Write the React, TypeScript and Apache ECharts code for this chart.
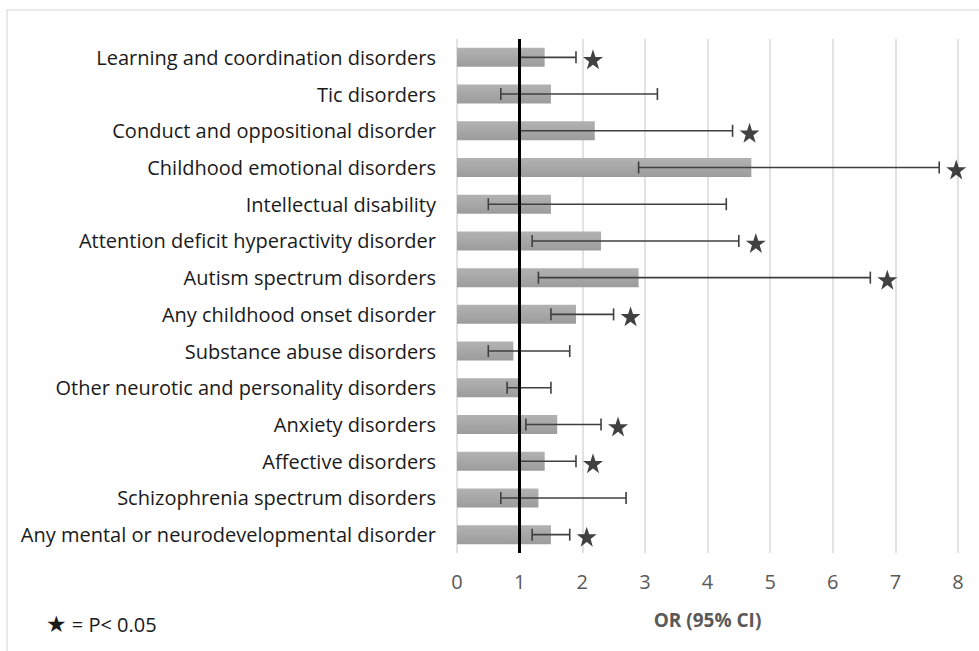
import React, { useEffect, useRef } from "react";
import * as echarts from "echarts";

const categories = [
  "Learning and coordination disorders",
  "Tic disorders",
  "Conduct and oppositional disorder",
  "Childhood emotional disorders",
  "Intellectual disability",
  "Attention deficit hyperactivity disorder",
  "Autism spectrum disorders",
  "Any childhood onset disorder",
  "Substance abuse disorders",
  "Other neurotic and personality disorders",
  "Anxiety disorders",
  "Affective disorders",
  "Schizophrenia spectrum disorders",
  "Any mental or neurodevelopmental disorder",
];
const orValues = [1.4, 1.5, 2.2, 4.7, 1.5, 2.3, 2.9, 1.9, 0.9, 0.98, 1.6, 1.4, 1.3, 1.5];
const ciLow = [1.0, 0.7, 1.0, 2.9, 0.5, 1.2, 1.3, 1.5, 0.5, 0.8, 1.1, 1.0, 0.7, 1.2];
const ciHigh = [1.9, 3.2, 4.4, 7.7, 4.3, 4.5, 6.6, 2.5, 1.8, 1.5, 2.3, 1.9, 2.7, 1.8];
const significant = [true, false, true, true, false, true, true, true, false, false, true, true, false, true];
const xTicks = [0, 1, 2, 3, 4, 5, 6, 7, 8];

const STAR = "path://M50,0 L61.8,35.1 L98.1,35.1 L68.7,56.7 L79.4,91.2 L50,70 L20.6,91.2 L31.3,56.7 L1.9,35.1 L38.2,35.1 Z";
const FONT = "'Open Sans', sans-serif";

export default function App() {
  const ref = useRef<HTMLDivElement>(null);
  useEffect(() => {
    if (!ref.current) return;
    const chart = echarts.init(ref.current, null, { renderer: "svg" });
    const errData = categories.map((_, i) => [i, ciLow[i], ciHigh[i]]);
    const starData = categories
      .map((_, i) => (significant[i] ? [ciHigh[i], i] : null))
      .filter((d) => d !== null);
    chart.setOption({
      animation: false,
      backgroundColor: "#ffffff",
      textStyle: { fontFamily: FONT },
      grid: { left: 457, right: 21, top: 39, bottom: 98, containLabel: false },
      graphic: [
        {
          type: "rect",
          shape: { x: 7, y: 10, width: 1000, height: 700 },
          style: { fill: "none", stroke: "#e3e3e3", lineWidth: 1.5 },
          silent: true,
        },
        {
          type: "text",
          x: 46,
          y: 624,
          style: {
            text: "{s|★} = P< 0.05",
            fontSize: 20,
            fontFamily: FONT,
            fill: "#1a1a1a",
            verticalAlign: "middle",
            rich: {
              s: { fontSize: 23, fill: "#1a1a1a", fontFamily: "DejaVu Sans" },
            },
          },
        },
      ],
      xAxis: {
        type: "value",
        min: 0,
        max: 8,
        interval: 1,
        axisLine: { show: false },
        axisTick: { show: false },
        splitLine: { show: true, lineStyle: { color: "#d9d9d9", width: 1.5 } },
        axisLabel: {
          color: "#595959",
          fontSize: 20,
          margin: 18,
          fontFamily: FONT,
          formatter: (v: number) => (xTicks.includes(v) ? String(v) : ""),
        },
        name: "OR (95% CI)",
        nameLocation: "middle",
        nameGap: 57,
        nameTextStyle: { color: "#595959", fontSize: 19, fontWeight: "bold", fontFamily: FONT },
      },
      yAxis: {
        type: "category",
        data: categories,
        inverse: true,
        axisLine: { show: false },
        axisTick: { show: false },
        axisLabel: { color: "#1a1a1a", fontSize: 20, margin: 21, fontFamily: FONT },
      },
      series: [
        {
          type: "bar",
          data: orValues,
          barWidth: 19,
          itemStyle: {
            color: new echarts.graphic.LinearGradient(0, 0, 0, 1, [
              { offset: 0, color: "#b2b2b2" },
              { offset: 1, color: "#9c9c9c" },
            ]),
          },
          markLine: {
            silent: true,
            symbol: "none",
            label: { show: false },
            lineStyle: { color: "#000000", width: 3, type: "solid" },
            data: [{ xAxis: 1 }],
          },
          z: 2,
        },
        {
          type: "custom",
          data: errData,
          z: 3,
          renderItem: (params: any, api: any) => {
            const cat = api.value(0);
            const lo = api.coord([api.value(1), cat]);
            const hi = api.coord([api.value(2), cat]);
            const y = lo[1];
            const h = 6;
            const style = { stroke: "#3f3f3f", lineWidth: 1.6 };
            return {
              type: "group",
              children: [
                { type: "line", shape: { x1: lo[0], y1: y, x2: hi[0], y2: y }, style },
                { type: "line", shape: { x1: lo[0], y1: y - h, x2: lo[0], y2: y + h }, style },
                { type: "line", shape: { x1: hi[0], y1: y - h, x2: hi[0], y2: y + h }, style },
              ],
            };
          },
          encode: { x: [1, 2], y: 0 },
        },
        {
          type: "scatter",
          data: starData,
          symbol: STAR,
          symbolSize: 20,
          symbolOffset: [17, 2],
          itemStyle: { color: "#111111" },
          z: 4,
        },
      ],
    });
    return () => chart.dispose();
  }, []);
  return <div ref={ref} style={{ width: 979, height: 651, position: "absolute", left: 0, top: 0 }} />;
}
